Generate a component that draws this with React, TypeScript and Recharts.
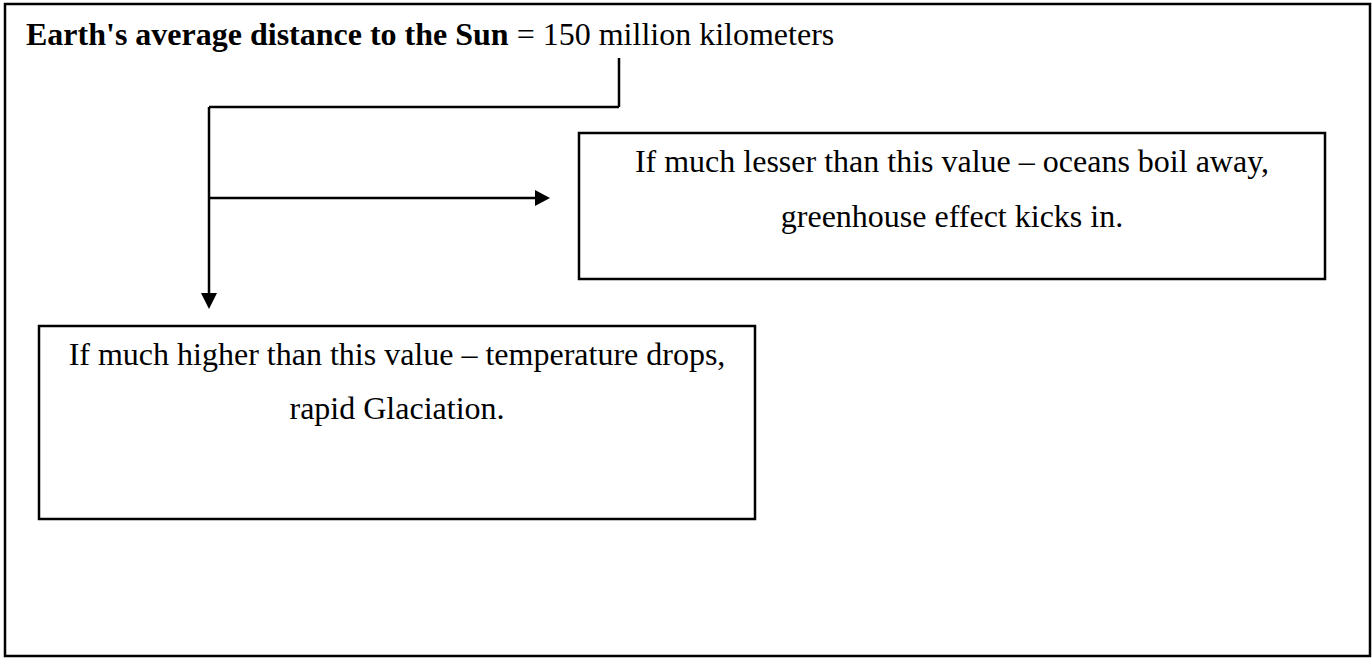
import { ComposedChart, XAxis, YAxis, Scatter, ReferenceArea, ReferenceLine } from "recharts"

const W = 1372
const H = 658
const FONT = "'Liberation Serif', 'Times New Roman', serif"
const LINE = 2.5

// diagram is laid out on a pixel grid: x 0..1372, y 0..658 (y grows downwards)
const frame = { x1: 5, y1: 4, x2: 1370, y2: 656 }

const boxes = [
  { name: "lesser", x1: 579, y1: 133, x2: 1325, y2: 279 },
  { name: "higher", x1: 39, y1: 326, x2: 755, y2: 519 },
]

// connector segments, from the title down to the two arrows
const connectors = [
  [{ x: 619, y: 58 }, { x: 619, y: 107 }],
  [{ x: 209, y: 107 }, { x: 619, y: 107 }],
  [{ x: 209, y: 107 }, { x: 209, y: 294 }],
  [{ x: 209, y: 198 }, { x: 536, y: 198 }],
]

// arrow tips
const arrowHeads = [
  { x: 209, y: 309, dir: "down" },
  { x: 550, y: 198, dir: "right" },
]

const titleBold = "Earth's average distance to the Sun"
const titleRest = " = 150 million kilometers"
const title = [{ x: 26, y: 45, bold: titleBold, rest: titleRest }]

// box captions: centre x, baseline y
const captions = [
  { x: 952, y: 172, text: "If much lesser than this value – oceans boil away," },
  { x: 952, y: 227, text: "greenhouse effect kicks in." },
  { x: 397, y: 365, text: "If much higher than this value – temperature drops," },
  { x: 397, y: 419, text: "rapid Glaciation." },
]

const renderArrow = (props: any) => {
  const { cx, cy, payload } = props
  const pts =
    payload.dir === "down"
      ? `${cx - 8},${cy - 16} ${cx + 8},${cy - 16} ${cx},${cy}`
      : `${cx - 15},${cy - 8} ${cx - 15},${cy + 8} ${cx},${cy}`
  return <polygon points={pts} fill="#000" />
}

const renderCaption = (props: any) => {
  const { cx, cy, payload } = props
  return (
    <text x={cx} y={cy} textAnchor="middle" fontFamily={FONT} fontSize={32} fill="#000">
      {payload.text}
    </text>
  )
}

const renderTitle = (props: any) => {
  const { cx, cy, payload } = props
  return (
    <text x={cx} y={cy} fontFamily={FONT} fontSize={32} fill="#000" style={{ whiteSpace: "pre" }}>
      <tspan fontWeight="bold">{payload.bold}</tspan>
      <tspan>{payload.rest}</tspan>
    </text>
  )
}

export default function App() {
  return (
    <div style={{ width: W, height: H, background: "#fff" }}>
      <style>{`body { margin: 0; }`}</style>
      <ComposedChart width={W} height={H} margin={{ top: 0, right: 0, bottom: 0, left: 0 }}>
        <XAxis type="number" dataKey="x" domain={[0, W]} hide allowDataOverflow />
        <YAxis type="number" dataKey="y" domain={[0, H]} reversed hide allowDataOverflow />
        <ReferenceArea
          x1={frame.x1}
          x2={frame.x2}
          y1={frame.y1}
          y2={frame.y2}
          fill="#fff"
          fillOpacity={1}
          stroke="#000"
          strokeWidth={LINE}
        />
        {boxes.map((b) => (
          <ReferenceArea
            key={b.name}
            x1={b.x1}
            x2={b.x2}
            y1={b.y1}
            y2={b.y2}
            fill="#fff"
            fillOpacity={1}
            stroke="#000"
            strokeWidth={LINE}
          />
        ))}
        {connectors.map((seg, i) => (
          <ReferenceLine key={`c-${i}`} segment={seg} stroke="#000" strokeWidth={LINE} />
        ))}
        <Scatter data={arrowHeads} shape={renderArrow} isAnimationActive={false} />
        <Scatter data={captions} shape={renderCaption} isAnimationActive={false} />
        <Scatter data={title} shape={renderTitle} isAnimationActive={false} />
      </ComposedChart>
    </div>
  )
}
